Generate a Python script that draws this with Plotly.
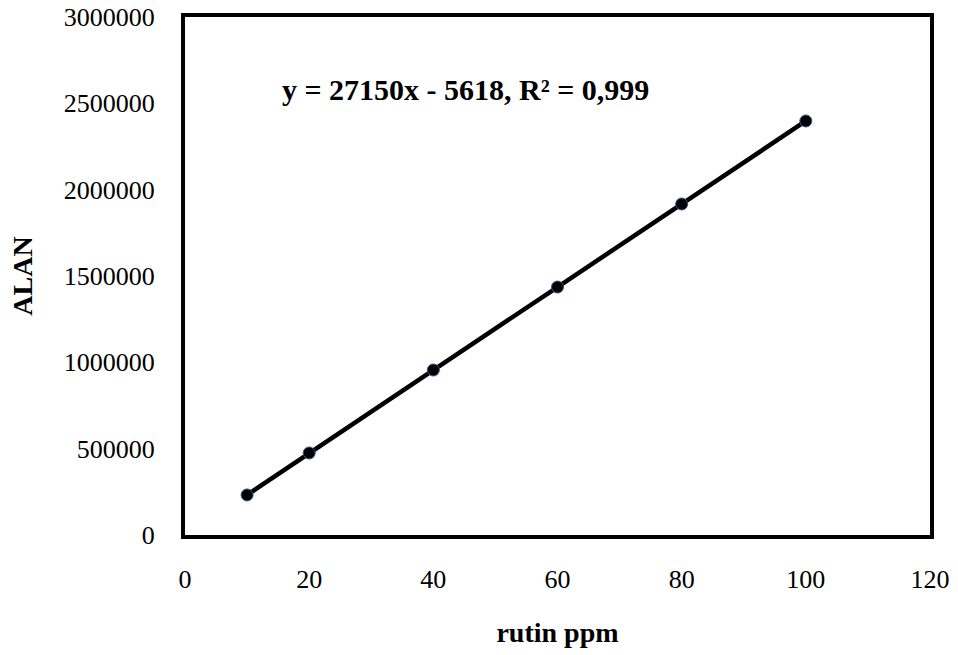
import plotly.graph_objects as go

# Calibration data: rutin concentration (ppm) vs. peak area
rutin_ppm = [10, 20, 40, 60, 80, 100]
alan = [232000, 475000, 955500, 1436000, 1917000, 2398000]

x_ticks = [0, 20, 40, 60, 80, 100, 120]
y_ticks = [0, 500000, 1000000, 1500000, 2000000, 2500000, 3000000]

equation_text = "y = 27150x - 5618, R² = 0,999"

serif = "Liberation Serif, Times New Roman, serif"

fig = go.Figure()
fig.add_trace(go.Scatter(
    x=rutin_ppm, y=alan,
    mode="lines+markers",
    line=dict(color="black", width=4.5),
    marker=dict(size=12, color="black", line=dict(color="#2f5597", width=1)),
    showlegend=False,
))

fig.add_annotation(
    x=45.1, y=2580000, xref="x", yref="y",
    text=f"<b>{equation_text}</b>",
    showarrow=False,
    font=dict(family=serif, size=30, color="black"),
)

axis_common = dict(
    showgrid=False, zeroline=False, automargin=False,
    showline=True, linecolor="black", linewidth=4, mirror=True,
    ticks="",
    tickfont=dict(family=serif, size=26, color="black"),
)

fig.update_xaxes(
    range=[0, 120], tickvals=x_ticks, ticktext=[str(v) for v in x_ticks],
    ticklabelstandoff=18,
    title=dict(text="<b>rutin ppm</b>", font=dict(family=serif, size=28, color="black"), standoff=30),
    **axis_common,
)
fig.update_yaxes(
    range=[0, 3000000], tickvals=y_ticks, ticktext=[str(v) for v in y_ticks],
    ticklabelstandoff=21,
    title=dict(text="<b>ALAN</b>", font=dict(family=serif, size=28, color="black"), standoff=24),
    **axis_common,
)

fig.update_layout(
    width=958, height=655,
    margin=dict(l=185, r=28, t=17, b=120),
    paper_bgcolor="white", plot_bgcolor="white",
)

fig.write_html("out.html")
